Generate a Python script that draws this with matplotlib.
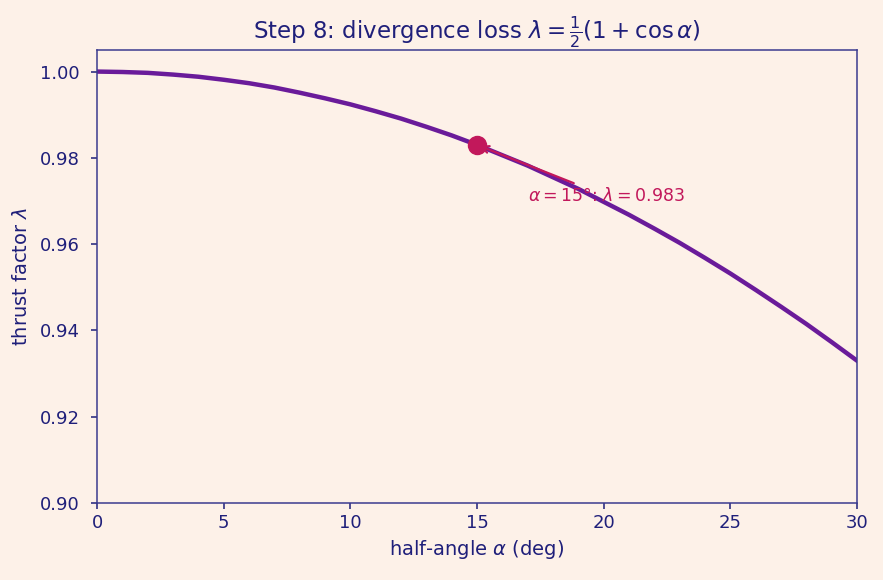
import matplotlib.pyplot as plt

# values, one per degree
alpha_deg = list(range(0, 31))
thrust = [1.0000, 0.9999, 0.9997, 0.9993, 0.9988, 0.9981, 0.9973, 0.9963,
          0.9951, 0.9938, 0.9924, 0.9908, 0.9891, 0.9872, 0.9852, 0.9830,
          0.9806, 0.9782, 0.9755, 0.9728, 0.9698, 0.9668, 0.9636, 0.9603,
          0.9568, 0.9532, 0.9494, 0.9455, 0.9415, 0.9373, 0.9330]
mark_alpha = 15
mark_lam = 0.983
xticks = [0, 5, 10, 15, 20, 25, 30]
yticks = [0.90, 0.92, 0.94, 0.96, 0.98, 1.00]

bg = '#fdf1e8'
navy = '#1f1f7a'
line_col = '#6a1b9a'
mark_col = '#c2185b'

fig = plt.figure(figsize=(8.83, 5.8), dpi=100, facecolor=bg)
ax = fig.add_axes([0.110, 0.1328, 0.8605, 0.781])
ax.set_facecolor(bg)

ax.plot(alpha_deg, thrust, color=line_col, lw=3.2)
ax.plot([mark_alpha], [mark_lam], 'o', color=mark_col, ms=13, zorder=3)
ax.annotate(r"$\alpha = 15°$: $\lambda = 0.983$", xy=(mark_alpha, mark_lam),
            xytext=(17.0, 0.970), color=mark_col, fontsize=12.5,
            arrowprops=dict(arrowstyle='->', color=mark_col, lw=1.6))

ax.set_xlim(0, 30)
ax.set_ylim(0.90, 1.005)
ax.set_xticks(xticks)
ax.set_yticks(yticks)
ax.set_yticklabels([f"{v:.2f}" for v in yticks])
ax.tick_params(colors=navy, labelsize=13, length=4.5, width=1.1)
ax.tick_params(axis='y', pad=8)
for s in ax.spines.values():
    s.set_color('#3b3b8f')
    s.set_linewidth(1.1)

ax.set_xlabel(r"half-angle $\alpha$ (deg)", color=navy, fontsize=14)
ax.set_ylabel(r"thrust factor $\lambda$", color=navy, fontsize=14, labelpad=6)
ax.set_title(r"Step 8: divergence loss $\lambda = \frac{1}{2}(1 + \cos\alpha)$",
             color=navy, fontsize=16.5)

fig.savefig("out.png", dpi=100, facecolor=bg)
